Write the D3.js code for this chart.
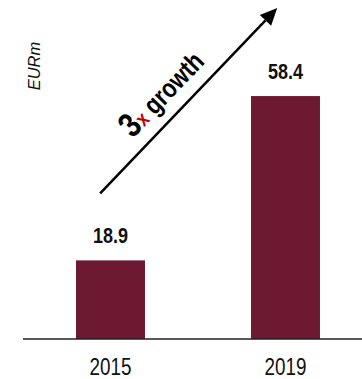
<!DOCTYPE html>
<html>
<head>
<meta charset="utf-8">
<script src="https://cdn.jsdelivr.net/npm/d3@7"></script>
<style>
  body { margin: 0; background: #fff; }
  svg { display: block; }
  text { font-family: "Liberation Sans", Arial, sans-serif; }
</style>
</head>
<body>
<div id="chart"></div>
<script>
const years = ["2015", "2019"];
const values = [18.9, 58.4];
const unitLabel = "EURm";
const growthLabel = ["3", "x", " growth"];

const data = years.map((y, i) => ({year: y, value: values[i]}));

const width = 362,
    height = 379,
    margin = ({top: 10, right: 0, bottom: 40, left: 23});
const narrow = 0.82; // no narrow font installed, squeeze Liberation Sans instead

let svg = d3.select("#chart").append("svg")
    .attr("width", width)
    .attr("height", height)
    .attr("viewBox", [0, 0, width, height]);

let x = d3.scaleBand()
    .domain(years)
    .range([margin.left, 373])
    .paddingInner(0.606)
    .paddingOuter(0.303);

let y = d3.scaleLinear()
    .domain([0, 60])
    .range([height - margin.bottom, 89.4]);

// bars
svg.selectAll(".bar")
    .data(data)
    .join("rect")
    .attr("class", "bar")
    .attr("fill", "#6d1931")
    .attr("x", d => x(d.year))
    .attr("width", x.bandwidth())
    .attr("y", d => y(d.value))
    .attr("height", d => y(0) - y(d.value));

// value labels
svg.selectAll(".val")
    .data(data)
    .join("text")
    .attr("class", "val")
    .attr("transform", d => `translate(${x(d.year) + x.bandwidth() / 2}, ${y(d.value) - 17.5}) scale(${narrow}, 1)`)
    .attr("text-anchor", "middle")
    .attr("font-weight", "bold")
    .attr("font-size", 22)
    .attr("fill", "#111")
    .text(d => d.value.toFixed(1));

// baseline
svg.append("line")
    .attr("x1", margin.left)
    .attr("x2", width)
    .attr("y1", y(0))
    .attr("y2", y(0))
    .attr("stroke", "#222")
    .attr("stroke-width", 1.5);

// x axis labels
const xAxis = g => g
    .attr("transform", `translate(0, ${y(0)})`)
    .call(d3.axisBottom(x).tickSize(0).tickPadding(20))
    .call(g => g.select(".domain").remove())
    .call(g => g.selectAll("text")
        .attr("font-size", 23)
        .attr("font-family", null)
        .attr("transform", `scale(${narrow}, 1)`)
        .attr("fill", "#111"));
svg.append("g").call(xAxis);

// unit label
svg.append("text")
    .attr("transform", "translate(39.5, 66) rotate(-90)")
    .attr("text-anchor", "middle")
    .attr("font-style", "italic")
    .attr("font-size", 16.5)
    .attr("fill", "#111")
    .text(unitLabel);

// growth arrow, anchored on the bars
const p0 = [x("2015") + x.bandwidth() * 0.35, y(values[0]) - 67],
    p1 = [x("2019") + x.bandwidth() * 0.38, y(values[1]) - 88];
const dx = p1[0] - p0[0], dy = p1[1] - p0[1],
    len = Math.hypot(dx, dy),
    u = [dx / len, dy / len],
    n = [u[1], -u[0]],
    headLen = 17, headW = 7.8;
const base = [p1[0] - u[0] * headLen, p1[1] - u[1] * headLen];

svg.append("line")
    .attr("x1", p0[0]).attr("y1", p0[1])
    .attr("x2", base[0]).attr("y2", base[1])
    .attr("stroke", "#000")
    .attr("stroke-width", 2.5);

svg.append("path")
    .attr("d", d3.line()([
        p1,
        [base[0] + n[0] * headW, base[1] + n[1] * headW],
        [base[0] - n[0] * headW, base[1] - n[1] * headW]
    ]) + "Z")
    .attr("fill", "#000");

const angle = Math.atan2(dy, dx) * 180 / Math.PI;
const along = 62, off = 14; // where the label sits on / above the arrow
const tPos = [p0[0] + u[0] * along + u[1] * off, p0[1] + u[1] * along - u[0] * off];

let growth = svg.append("text")
    .attr("transform", `translate(${tPos[0]}, ${tPos[1]}) rotate(${angle}) scale(${narrow}, 1)`)
    .attr("font-weight", "bold")
    .attr("fill", "#000");
growth.append("tspan").attr("font-size", 35).text(growthLabel[0]);
growth.append("tspan").attr("font-size", 21).attr("fill", "#c00000").text(growthLabel[1]);
growth.append("tspan").attr("font-size", 27).text(growthLabel[2]);
</script>
</body>
</html>
